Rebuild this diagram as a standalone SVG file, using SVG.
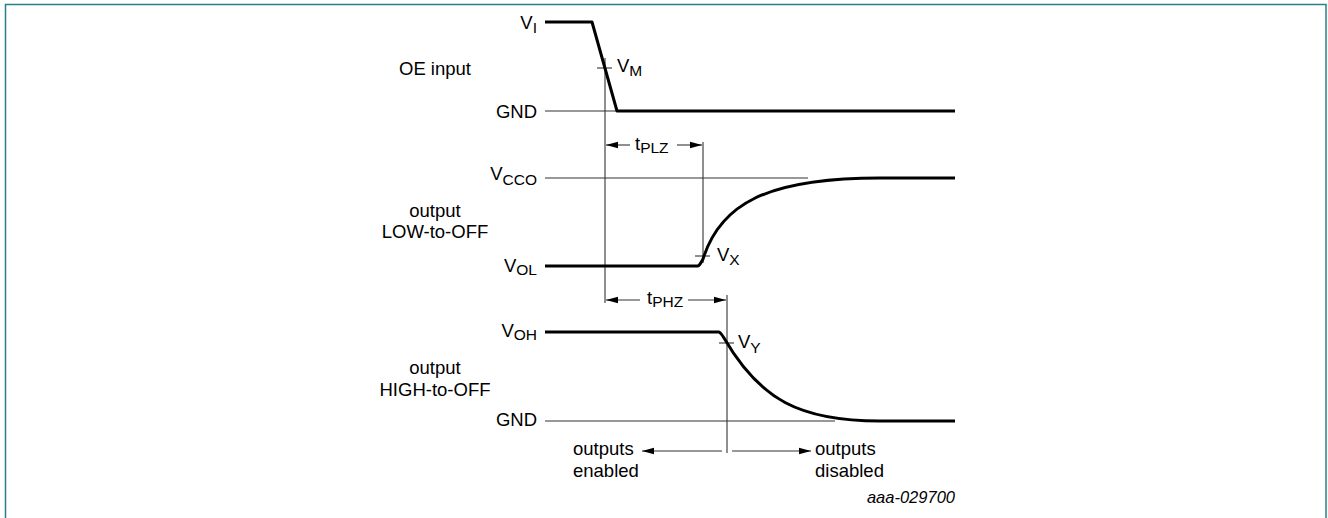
<svg xmlns="http://www.w3.org/2000/svg" width="1328" height="518" viewBox="0 0 1328 518">
<style>
text{font-family:"Liberation Sans",Arial,sans-serif;font-size:18.5px;fill:#000}
.s{font-size:15.5px}
.thin{stroke:#333;stroke-width:1.1;fill:none}
.thick{stroke:#000;stroke-width:3;fill:none;stroke-linejoin:round}
.id{font-size:16.5px;font-style:italic}
</style>
<defs>
<marker id="ah" viewBox="0 0 12 10" refX="12" refY="5" markerWidth="12" markerHeight="10" markerUnits="userSpaceOnUse" orient="auto">
<path d="M0,1.8 L12,5 L0,8.2 Z" fill="#000"/>
</marker>
</defs>
<rect x="5.5" y="4.5" width="1320.5" height="530" fill="#fff" stroke="#2a8088" stroke-width="1.5"/>

<g id="connectors">
<line class="thin" x1="545" y1="111" x2="617" y2="111"/>
<line class="thin" x1="545" y1="178" x2="808" y2="178"/>
<line class="thin" x1="545" y1="421" x2="835" y2="421"/>
<line class="thin" x1="605" y1="58" x2="605" y2="303"/>
<line class="thin" x1="703" y1="142" x2="703" y2="263"/>
<line class="thin" x1="727" y1="295" x2="727" y2="453"/>
<line class="thin" x1="597" y1="68" x2="612" y2="68"/>
<line class="thin" x1="695" y1="256" x2="710" y2="256"/>
<line class="thin" x1="719" y1="343" x2="734" y2="343"/>
<line class="thin" x1="630" y1="145" x2="606" y2="145" marker-end="url(#ah)"/>
<line class="thin" x1="677" y1="145" x2="702" y2="145" marker-end="url(#ah)"/>
<line class="thin" x1="640" y1="300" x2="606" y2="300" marker-end="url(#ah)"/>
<line class="thin" x1="688" y1="300" x2="726" y2="300" marker-end="url(#ah)"/>
<line class="thin" x1="722" y1="451" x2="642" y2="451" marker-end="url(#ah)"/>
<line class="thin" x1="732" y1="451" x2="811" y2="451" marker-end="url(#ah)"/>
</g>

<g id="oe-input">
<path class="thick" d="M545,22 H592 L617,111 H955"/>
<text x="435" y="75" text-anchor="middle">OE input</text>
<text x="537" y="29" text-anchor="end">V<tspan class="s" dy="4">I</tspan></text>
<text x="537" y="118" text-anchor="end">GND</text>
<text x="617" y="72">V<tspan class="s" dy="4">M</tspan></text>
</g>

<g id="output-low-to-off">
<path class="thick" d="M545,266 H698 Q700,265 703,259 C720,205 765,178 880,178 H955"/>
<text x="537" y="180" text-anchor="end">V<tspan class="s" dy="5">CCO</tspan></text>
<text x="537" y="272" text-anchor="end">V<tspan class="s" dy="3">OL</tspan></text>
<text x="435" y="217" text-anchor="middle">output</text>
<text x="435" y="238" text-anchor="middle">LOW-to-OFF</text>
<text x="717" y="261">V<tspan class="s" dy="4">X</tspan></text>
<text x="635" y="150">t<tspan class="s" dy="3">PLZ</tspan></text>
</g>

<g id="output-high-to-off">
<path class="thick" d="M545,332 H719 Q721,333 724,338 C760,400 800,421 880,421 H955"/>
<text x="537" y="337" text-anchor="end">V<tspan class="s" dy="3">OH</tspan></text>
<text x="537" y="426" text-anchor="end">GND</text>
<text x="435" y="374" text-anchor="middle">output</text>
<text x="435" y="396" text-anchor="middle">HIGH-to-OFF</text>
<text x="738" y="348">V<tspan class="s" dy="5">Y</tspan></text>
<text x="647" y="304">t<tspan class="s" dy="3">PHZ</tspan></text>
</g>

<g id="status-labels">
<text x="573" y="455">outputs</text>
<text x="573" y="477">enabled</text>
<text x="815" y="455">outputs</text>
<text x="815" y="477">disabled</text>
<text class="id" x="955" y="503" text-anchor="end">aaa-029700</text>
</g>
</svg>
